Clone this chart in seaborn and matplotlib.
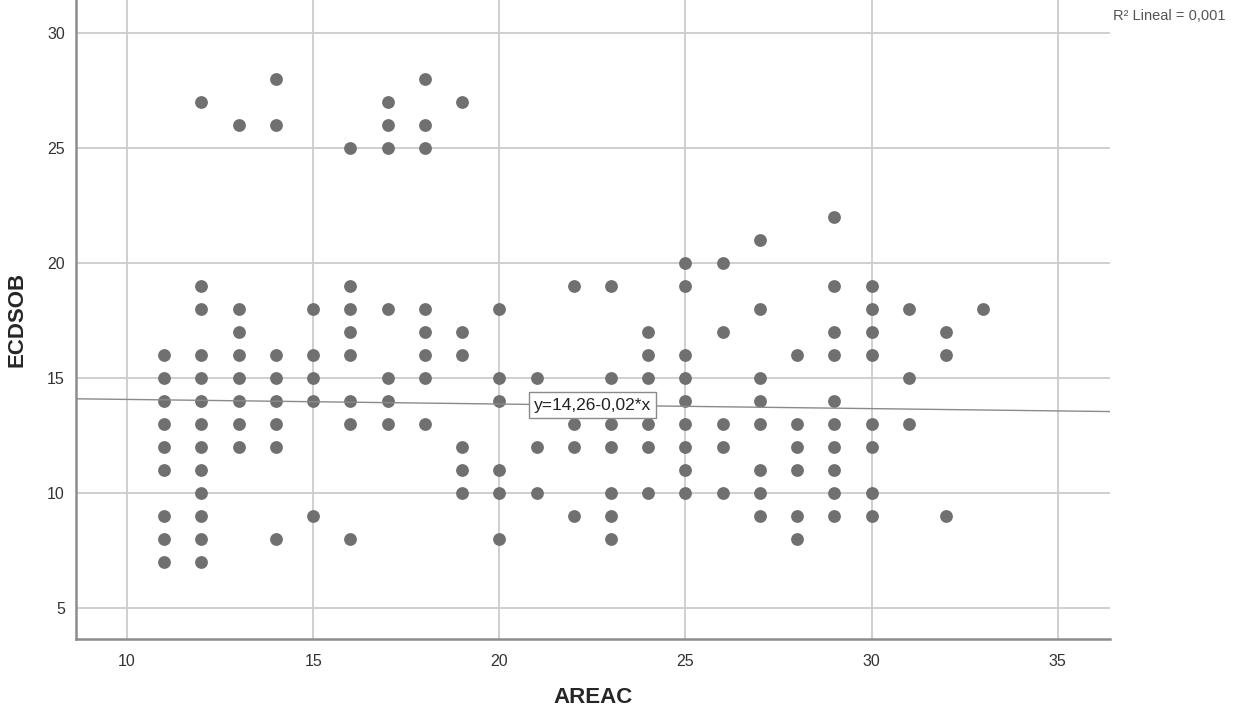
import numpy as np
import pandas as pd
import matplotlib
matplotlib.use("Agg")
import matplotlib.pyplot as plt
import seaborn as sns

# points, one column of y values per AREAC value
areac_vals = [11, 12, 13, 14, 15, 16, 17, 18, 19, 20, 21, 22,
              23, 24, 25, 26, 27, 28, 29, 30, 31, 32, 33]
ecdsob_cols = [
    [16, 15, 14, 13, 12, 11, 9, 8, 7],
    [27, 19, 18, 16, 15, 14, 13, 12, 11, 10, 9, 8, 7],
    [26, 18, 17, 16, 15, 14, 13, 12],
    [28, 26, 16, 15, 14, 13, 12, 8],
    [18, 16, 15, 14, 9],
    [25, 19, 18, 17, 16, 14, 13, 8],
    [27, 26, 25, 18, 15, 14, 13],
    [28, 26, 25, 18, 17, 16, 15, 13],
    [27, 17, 16, 12, 11, 10],
    [18, 15, 14, 11, 10, 8],
    [15, 12, 10],
    [19, 13, 12, 9],
    [19, 15, 13, 12, 10, 9, 8],
    [17, 16, 15, 14, 13, 12, 10],
    [20, 19, 16, 15, 14, 13, 12, 11, 10],
    [20, 17, 13, 12, 10],
    [21, 18, 15, 14, 13, 11, 10, 9],
    [16, 13, 12, 11, 9, 8],
    [22, 19, 17, 16, 14, 13, 12, 11, 10, 9],
    [19, 18, 17, 16, 13, 12, 10, 9],
    [18, 15, 13],
    [17, 16, 9],
    [18],
]
x_ticks = [10, 15, 20, 25, 30, 35]
y_ticks = [5, 10, 15, 20, 25, 30]
intercept = 14.26
slope = -0.02
fit_label = "y=14,26-0,02*x"
r2_label = "R² Lineal = 0,001"

rows = []
for a, col in zip(areac_vals, ecdsob_cols):
    for e in col:
        rows.append((a, e))
df = pd.DataFrame(rows, columns=["AREAC", "ECDSOB"])

sns.set_style("white")
plt.rcParams["font.family"] = ["Liberation Sans", "DejaVu Sans"]

fig = plt.figure(figsize=(12.33, 7.14), dpi=100)
ax = fig.add_axes([0.0616, 0.105, 0.8386, 0.895])

xlim = (8.63, 36.4)
ax.set_xlim(xlim)
ax.set_ylim(3.64, 31.43)

ax.set_xticks(x_ticks)
ax.set_yticks(y_ticks)
ax.grid(True, color="#cccccc", linewidth=1.3)
ax.set_axisbelow(True)

sns.scatterplot(data=df, x="AREAC", y="ECDSOB", ax=ax, color="#707070",
                s=85, linewidth=0, zorder=3)

xs = np.array(xlim)
sns.lineplot(x=xs, y=intercept + slope * xs, ax=ax, color="#8a8a8a",
             linewidth=1.0, zorder=4)

xm = 22.5
ax.text(xm, intercept + slope * xm, fit_label, ha="center", va="center",
        fontsize=12.5, color="#222222", zorder=5,
        bbox=dict(boxstyle="square,pad=0.3", facecolor="white",
                  edgecolor="#8a8a8a", linewidth=1.0))

for side in ["top", "right"]:
    ax.spines[side].set_visible(False)
for side in ["left", "bottom"]:
    ax.spines[side].set_color("#8c8c8c")
    ax.spines[side].set_linewidth(1.8)

ax.tick_params(axis="both", length=0, labelsize=11.5, labelcolor="#333333")
ax.tick_params(axis="x", pad=11)
ax.tick_params(axis="y", pad=8)

ax.set_xlabel("AREAC", fontsize=16, fontweight="bold", labelpad=13)
ax.set_ylabel("ECDSOB", fontsize=16, fontweight="bold", labelpad=14)

fig.text(1113 / 1233, 1 - 16 / 714, r2_label, ha="left", va="center",
         fontsize=10.5, color="#555555")

fig.savefig("out.png", dpi=100, facecolor="white")
